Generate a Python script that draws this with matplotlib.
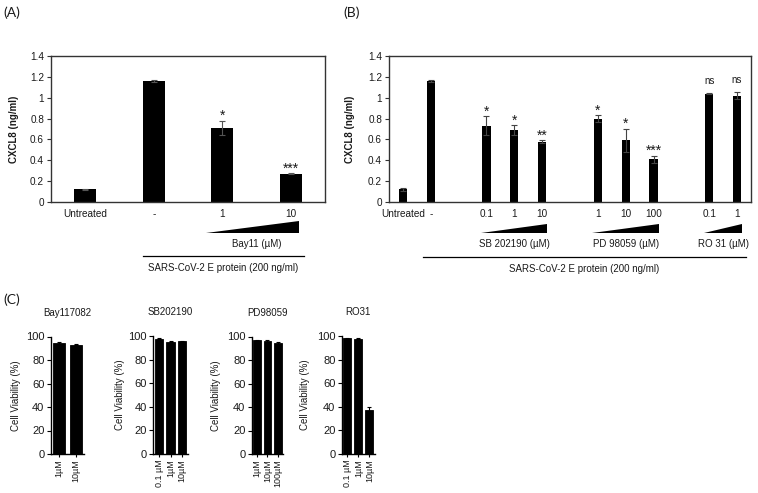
import matplotlib
matplotlib.use("Agg")
import matplotlib.pyplot as plt
import matplotlib.transforms as mtransforms
from matplotlib.patches import Polygon
from matplotlib.lines import Line2D
import numpy as np

plt.rcParams['font.family'] = ['Liberation Sans', 'DejaVu Sans']

# ---------------- data ----------------
# Panel A
a_labels = ["Untreated", "-", "1", "10"]
a_values = [0.12, 1.16, 0.71, 0.27]
a_errors = [0.008, 0.012, 0.07, 0.006]
a_marks = ["", "", "*", "***"]
a_drug = "Bay11 (µM)"
a_ticks = [0, 0.2, 0.4, 0.6, 0.8, 1.0, 1.2, 1.4]
a_ticklabels = ["0", "0.2", "0.4", "0.6", "0.8", "1", "1.2", "1.4"]

# Panel B (slots 2, 6, 10 are empty gaps)
b_slots = [0, 1, 3, 4, 5, 7, 8, 9, 11, 12]
b_labels = ["Untreated", "-", "0.1", "1", "10", "1", "10", "100", "0.1", "1"]
b_values = [0.12, 1.16, 0.73, 0.69, 0.58, 0.80, 0.59, 0.41, 1.04, 1.02]
b_errors = [0.01, 0.012, 0.09, 0.045, 0.01, 0.03, 0.11, 0.035, 0.003, 0.035]
b_marks = ["", "", "*", "*", "**", "*", "*", "***", "ns", "ns"]
b_groups = [("SB 202190 (µM)", [3, 4, 5]),
            ("PD 98059 (µM)", [7, 8, 9]),
            ("RO 31 (µM)", [11, 12])]
treatment_label = "SARS-CoV-2 E protein (200 ng/ml)"

# Panel C
c_titles = ["Bay117082", "SB202190", "PD98059", "RO31"]
c_labels = [["1µM", "10µM"],
            ["0.1 µM", "1µM", "10µM"],
            ["1µM", "10µM", "100µM"],
            ["0.1 µM", "1µM", "10µM"]]
c_values = [[94.5, 93.0],
            [97.8, 95.5, 95.8],
            [96.8, 96.3, 94.5],
            [98.4, 98.0, 37.5]]
c_errors = [[0.6, 0.5],
            [0.6, 0.5, 0.5],
            [0.5, 0.6, 0.5],
            [0.4, 0.4, 2.3]]
c_ticks = [0, 20, 40, 60, 80, 100]

# ---------------- layout ----------------
W, H = 758, 493
fig = plt.figure(figsize=(W / 100, H / 100), dpi=100)


def px_rect(l, t, r, b):
    return [l / W, 1 - b / H, (r - l) / W, (b - t) / H]


frame_col = "#333333"
txt_col = "#1a1a1a"


def style_box(ax):
    for s in ax.spines.values():
        s.set_color(frame_col)
        s.set_linewidth(1.0)
    ax.tick_params(axis='y', direction='out', length=3, width=0.8,
                   color=frame_col, labelsize=7.2, labelcolor=txt_col, pad=2)
    ax.tick_params(axis='x', length=0, labelsize=7.2, labelcolor=txt_col, pad=5)
    ax.set_ylim(0, 1.4)
    ax.set_yticks(a_ticks, a_ticklabels)
    ax.set_ylabel("CXCL8 (ng/ml)", fontsize=7, fontweight='bold', color=txt_col)


def add_marks(ax, xs, vals, errs, marks):
    for x, v, e, m in zip(xs, vals, errs, marks):
        if not m:
            continue
        if m == "ns":
            ax.text(x, v + e + 0.09, m, ha='center', va='baseline', fontsize=7,
                    color=txt_col)
        else:
            ax.text(x, v + e + 0.008, m, ha='center', va='baseline', fontsize=10,
                    color=txt_col)


def wedge(ax, x0, x1, ybot, ytop):
    tr = mtransforms.blended_transform_factory(ax.transData, ax.transAxes)
    p = Polygon([[x0, ybot], [x1, ybot], [x1, ytop]], closed=True,
                facecolor='black', edgecolor='none', transform=tr, clip_on=False)
    ax.add_patch(p)


def hline(ax, x0, x1, y):
    tr = mtransforms.blended_transform_factory(ax.transData, ax.transAxes)
    ax.add_line(Line2D([x0, x1], [y, y], color='black', lw=0.9, transform=tr,
                       clip_on=False))


def btext(ax, x, y, s):
    tr = mtransforms.blended_transform_factory(ax.transData, ax.transAxes)
    ax.text(x, y, s, transform=tr, ha='center', va='center', fontsize=7,
            color=txt_col, clip_on=False)


# ---- Panel A ----
axA = fig.add_axes(px_rect(51, 56, 325, 202))
xa = np.arange(len(a_values)) + 0.5
axA.bar(xa, a_values, width=0.32, color='black', zorder=2)
axA.errorbar(xa, a_values, yerr=a_errors, fmt='none', ecolor='#555555',
             elinewidth=0.8, capsize=2, capthick=0.8, zorder=3)
axA.set_xlim(0, len(a_values))
style_box(axA)
axA.set_xticks(xa, a_labels)
axA.yaxis.set_label_coords(-0.117, 0.5)
add_marks(axA, xa, a_values, a_errors, a_marks)
wedge(axA, xa[2] - 0.23, xa[3] + 0.12, -0.212, -0.13)
btext(axA, (xa[2] + xa[3]) / 2, -0.288, a_drug)
hline(axA, xa[1] - 0.16, xa[3] + 0.19, -0.37)
btext(axA, (xa[1] - 0.16 + xa[3] + 0.19) / 2, -0.452, treatment_label)

# ---- Panel B ----
axB = fig.add_axes(px_rect(389, 56, 751, 202))
xb = np.array(b_slots, dtype=float)
axB.bar(xb, b_values, width=0.3, color='black', zorder=2)
axB.errorbar(xb, b_values, yerr=b_errors, fmt='none', ecolor='#444444',
             elinewidth=0.8, capsize=2, capthick=0.8, zorder=3)
axB.set_xlim(-0.5, 12.5)
style_box(axB)
axB.set_xticks(xb, b_labels)
axB.yaxis.set_label_coords(-0.094, 0.5)
add_marks(axB, xb, b_values, b_errors, b_marks)
for name, slots in b_groups:
    wedge(axB, slots[0] - 0.2, slots[-1] + 0.18, -0.212, -0.151)
    btext(axB, (slots[0] + slots[-1]) / 2, -0.288, name)
hline(axB, xb[1] - 0.28, xb[-1] + 0.32, -0.377)
btext(axB, (xb[1] - 0.28 + xb[-1] + 0.32) / 2, -0.459, treatment_label)

# ---- Panel C ----
c_rects = [(50.7, 336.5, 84, 454), (153.3, 336.2, 188, 454),
           (251.7, 336.5, 283, 454), (341.7, 336.2, 375, 454)]
c_ylabel_x = [21, 125, 221, 310]
for i in range(4):
    ax = fig.add_axes(px_rect(*c_rects[i]))
    xc = np.arange(len(c_values[i]))
    ax.bar(xc, c_values[i], width=0.72, color='black', edgecolor='black',
           linewidth=0.6, zorder=2)
    ax.errorbar(xc, c_values[i], yerr=c_errors[i], fmt='none', ecolor='black',
                elinewidth=0.8, capsize=1.5, capthick=0.8, zorder=3,
                clip_on=False)
    ax.set_xlim(-0.5, len(c_values[i]) - 0.5)
    ax.set_ylim(0, 100)
    ax.set_yticks(c_ticks)
    ax.set_xticks(xc, c_labels[i], rotation=90)
    for s in ['top', 'right']:
        ax.spines[s].set_visible(False)
    for s in ['left', 'bottom']:
        ax.spines[s].set_color('black')
        ax.spines[s].set_linewidth(1.0)
    ax.tick_params(axis='y', direction='out', length=3, width=0.8,
                   labelsize=8, pad=1.5, labelcolor=txt_col)
    ax.tick_params(axis='x', direction='out', length=2, width=0.8,
                   labelsize=6.5, pad=1.5, labelcolor=txt_col)
    ax.set_title(c_titles[i], fontsize=7, pad=15, color=txt_col)
    ax.set_ylabel("Cell Viability (%)", fontsize=7, color=txt_col)
    tr = mtransforms.blended_transform_factory(fig.transFigure, ax.transAxes)
    ax.yaxis.set_label_coords(c_ylabel_x[i] / W, 0.5, transform=tr)

# panel letters
for s, x, y in [("(A)", 3, 13), ("(B)", 343, 13), ("(C)", 3, 300)]:
    fig.text(x / W, 1 - y / H, s, fontsize=10, family=['Lato', 'DejaVu Sans'],
             ha='left', va='center', color=txt_col)

fig.savefig("out.png", dpi=100)
